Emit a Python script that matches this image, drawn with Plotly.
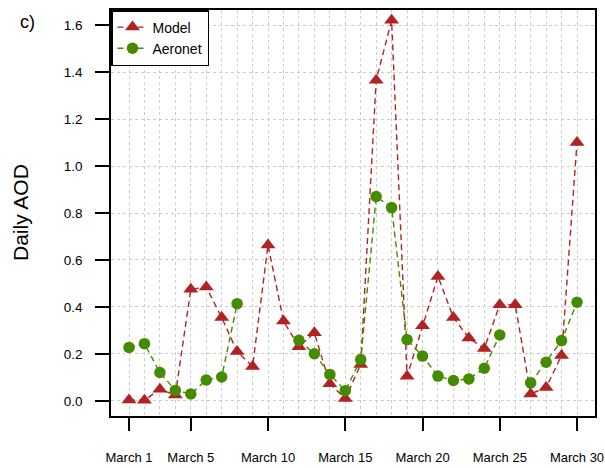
import plotly.graph_objects as go

days = list(range(1, 31))
model = [0.004, 0.003, 0.05, 0.025, 0.475, 0.485, 0.355, 0.21, 0.147, 0.664,
         0.34, 0.231, 0.29, 0.073, 0.01, 0.155, 1.365, 1.62, 0.105, 0.32,
         0.53, 0.355, 0.268, 0.223, 0.41, 0.41, 0.03, 0.057, 0.193, 1.10]
aeronet = [0.228, 0.244, 0.121, 0.045, 0.030, 0.089, 0.102, 0.414, None, None,
           None, 0.258, 0.201, 0.113, 0.044, 0.176, 0.870, 0.823, 0.261, 0.191,
           0.106, 0.087, 0.094, 0.139, 0.281, None, 0.077, 0.165, 0.257, 0.420]
xtick_vals = [1, 5, 10, 15, 20, 25, 30]
xtick_text = ["March 1", "March 5", "March 10", "March 15", "March 20", "March 25", "March 30"]
ytick_vals = [0.0, 0.2, 0.4, 0.6, 0.8, 1.0, 1.2, 1.4, 1.6]
ytick_text = ["0.0", "0.2", "0.4", "0.6", "0.8", "1.0", "1.2", "1.4", "1.6"]

RED = "#B22222"
GREEN = "#458B00"
FONT = "Liberation Sans, Arial, sans-serif"

fig = go.Figure()
fig.add_trace(go.Scatter(
    x=days, y=model, name="Model", mode="lines+markers",
    line=dict(color=RED, width=1.4, dash="6px,4px"),
    marker=dict(symbol="triangle-up", size=13, color=RED, line=dict(width=0)),
))
fig.add_trace(go.Scatter(
    x=days, y=aeronet, name="Aeronet", mode="lines+markers",
    line=dict(color=GREEN, width=1.4, dash="6px,4px"),
    marker=dict(symbol="circle", size=11.5, color=GREEN, line=dict(width=0)),
    connectgaps=False,
))

fig.update_layout(
    width=605, height=468, autosize=False,
    margin=dict(l=111, r=10, t=10, b=52, pad=0),
    paper_bgcolor="white", plot_bgcolor="white",
    font=dict(family=FONT, size=13, color="black"),
    showlegend=True,
    legend=dict(x=0, y=1, xanchor="left", yanchor="top",
                bordercolor="black", borderwidth=1.5, bgcolor="white",
                font=dict(size=14), itemwidth=30, tracegroupgap=0),
    annotations=[
        dict(text="c)", xref="paper", yref="paper", x=-0.1715, y=0.970,
             xanchor="center", yanchor="middle", showarrow=False,
             font=dict(size=18, family=FONT)),
        dict(text="Daily AOD", xref="paper", yref="paper", x=-0.188, y=0.5,
             xanchor="center", yanchor="middle", showarrow=False, textangle=-90,
             font=dict(size=21, family=FONT)),
    ],
)

fig.update_xaxes(
    range=[-0.165, 31.165], tickmode="array", tickvals=xtick_vals, ticktext=xtick_text,
    ticks="outside", ticklen=13, tickwidth=1.5, tickcolor="black",
    ticklabelstandoff=16, automargin=False,
    showline=True, mirror=True, linecolor="black", linewidth=1.5,
    showgrid=True, gridcolor="#CCCCCC", griddash="dot", gridwidth=1,
    minor=dict(tickvals=days, showgrid=True, gridcolor="#CCCCCC", griddash="dot",
               gridwidth=1, ticks=""),
    zeroline=False, tickfont=dict(size=13),
)
fig.update_yaxes(
    range=[-0.064, 1.664], tickmode="array", tickvals=ytick_vals, ticktext=ytick_text,
    ticks="outside", ticklen=14, tickwidth=1.5, tickcolor="black",
    ticklabelstandoff=10, automargin=False,
    showline=True, mirror=True, linecolor="black", linewidth=1.5,
    showgrid=True, gridcolor="#CCCCCC", griddash="dot", gridwidth=1,
    zeroline=False, tickfont=dict(size=13.5),
)

fig.write_html("out.html")
